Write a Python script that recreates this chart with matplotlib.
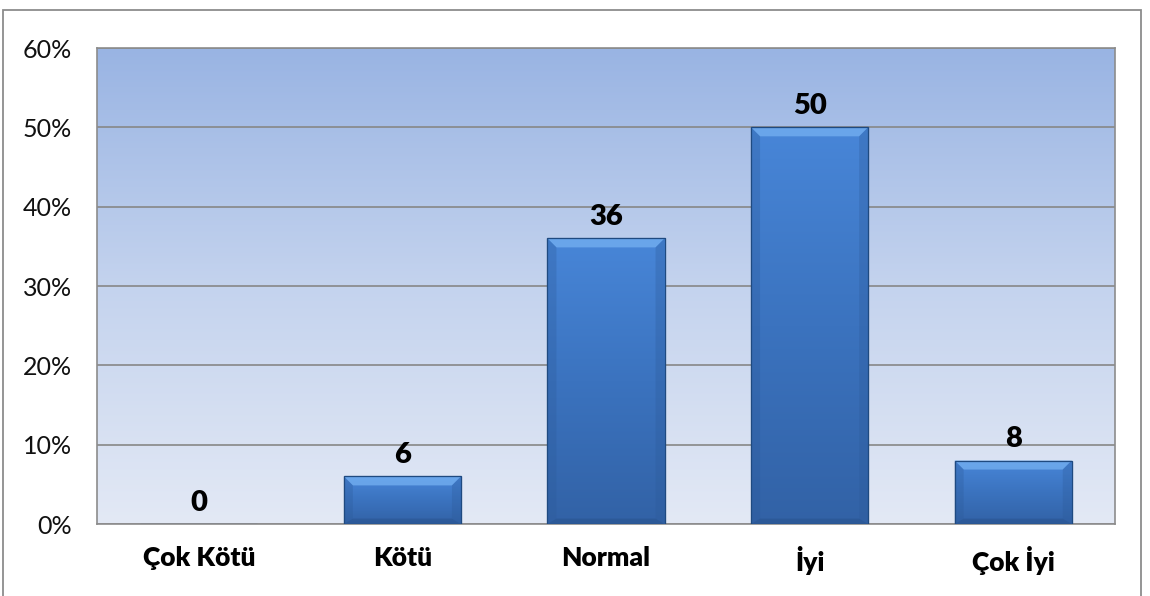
import numpy as np
import matplotlib
matplotlib.use("Agg")
import matplotlib.pyplot as plt
from matplotlib.patches import Polygon, Rectangle
from matplotlib.colors import LinearSegmentedColormap
from matplotlib.ticker import FuncFormatter

categories = ["Çok Kötü", "Kötü", "Normal", "İyi", "Çok İyi"]
values = [0, 6, 36, 50, 8]          # percent
y_ticks = [0, 10, 20, 30, 40, 50, 60]

plt.rcParams["font.family"] = ["Lato", "DejaVu Sans"]

W, H = 1150, 596
fig = plt.figure(figsize=(W / 100, H / 100), dpi=100)
fig.patch.set_facecolor("white")

# outer chart frame
fig.add_artist(Rectangle((3 / W, -0.02), 1138 / W, 1.02 - 10 / H,
                         transform=fig.transFigure, fill=False,
                         edgecolor="#8c8c8c", linewidth=1.3))

ax = fig.add_axes([97 / W, 72 / H, 1018 / W, 476 / H])
x = np.arange(len(categories))
ax.set_xlim(-0.5, len(categories) - 0.5)
ax.set_ylim(0, 60)

# plot-area gradient background
bg_cmap = LinearSegmentedColormap.from_list("bg", ["#e3e9f5", "#c4d3ee", "#99b4e3"])
grad = np.linspace(0, 1, 256).reshape(-1, 1)
ax.imshow(grad, cmap=bg_cmap, origin="lower", aspect="auto",
          extent=[0, 1, 0, 1], transform=ax.transAxes, zorder=0)

ax.set_yticks(y_ticks)
ax.yaxis.set_major_formatter(FuncFormatter(lambda v, p: f"{v:.0f}%"))
ax.grid(axis="y", color="#878787", linewidth=1.2, zorder=1)
ax.set_axisbelow(True)
for s in ax.spines.values():
    s.set_color("#8c8c8c")
    s.set_linewidth(1.2)
ax.tick_params(axis="y", length=0, pad=18, labelsize=18, colors="#111111")
ax.tick_params(axis="x", length=0, pad=16, labelsize=19)
ax.set_xticks(x)
ax.set_xticklabels(categories, fontweight="heavy")

bar_w = 0.575
bars = ax.bar(x, values, width=bar_w, color="#3f78c6", edgecolor="#23508a",
              linewidth=0.8, zorder=3)

bar_cmap = LinearSegmentedColormap.from_list("bar", ["#3262a6", "#3b73bf", "#4886d8"])
fig.canvas.draw()
px_x = ax.transData.transform((1, 0))[0] - ax.transData.transform((0, 0))[0]
px_y = ax.transData.transform((0, 1))[1] - ax.transData.transform((0, 0))[1]
bev = 9
dx, dy = bev / px_x, bev / px_y

for b, v in zip(bars, values):
    if v <= 0:
        continue
    x0, x1 = b.get_x(), b.get_x() + b.get_width()
    y0, y1 = 0, b.get_height()
    im = ax.imshow(grad, cmap=bar_cmap, origin="lower", aspect="auto",
                   extent=[x0, x1, y0, y1], zorder=3.1)
    im.set_clip_path(b)
    d_y = min(dy, (y1 - y0) / 3)
    # bevel faces
    ax.add_patch(Polygon([(x0, y1), (x1, y1), (x1 - dx, y1 - d_y), (x0 + dx, y1 - d_y)],
                         closed=True, facecolor="#72aef0", edgecolor="none",
                         alpha=0.8, zorder=3.2))
    ax.add_patch(Polygon([(x0, y0), (x0, y1), (x0 + dx, y1 - d_y), (x0 + dx, y0 + d_y * 0.6)],
                         closed=True, facecolor="#2c5a99", edgecolor="none",
                         alpha=0.3, zorder=3.2))
    ax.add_patch(Polygon([(x1, y0), (x1, y1), (x1 - dx, y1 - d_y), (x1 - dx, y0 + d_y * 0.6)],
                         closed=True, facecolor="#2c5a99", edgecolor="none",
                         alpha=0.3, zorder=3.2))
    ax.add_patch(Polygon([(x0, y0), (x1, y0), (x1 - dx, y0 + d_y * 0.6), (x0 + dx, y0 + d_y * 0.6)],
                         closed=True, facecolor="#244c85", edgecolor="none",
                         alpha=0.4, zorder=3.2))
    ax.add_patch(Rectangle((x0, y0), x1 - x0, y1 - y0, fill=False,
                           edgecolor="#1f4a80", linewidth=0.9, zorder=3.3))

for xi, v in zip(x, values):
    ax.annotate(f"{v}", (xi, v), xytext=(0, 6), textcoords="offset points",
                ha="center", va="bottom", fontsize=21, fontweight="heavy",
                color="black", zorder=5)

fig.savefig("out.png", dpi=100)
